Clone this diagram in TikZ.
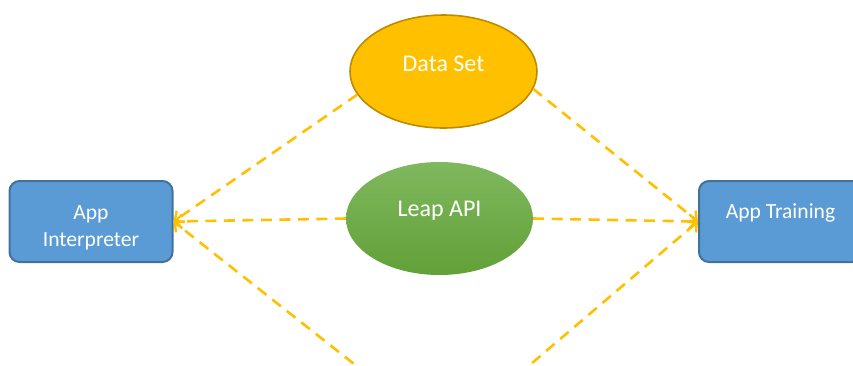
\documentclass[tikz,border=0pt]{standalone}
\usepackage{fontspec}
\setmainfont{Carlito}
\usepackage{tikz}
\usetikzlibrary{shapes.geometric,arrows.meta}
\definecolor{appfill}{HTML}{5B9BD5}
\definecolor{appedge}{HTML}{41719C}
\definecolor{datafill}{HTML}{FFC000}
\definecolor{dataedge}{HTML}{BC8C00}
\definecolor{leaptop}{HTML}{7FB85E}
\definecolor{leapbot}{HTML}{62A038}
\definecolor{linkgold}{HTML}{FFC000}

\begin{document}
\begin{tikzpicture}[
  x=1pt, y=-1pt,
  appbox/.style={draw=appedge, fill=appfill, line width=2pt, rounded corners=10pt,
    minimum width=163pt, minimum height=81pt, inner sep=0pt, text=white,
    align=center, font=\fontsize{21.6}{27.5}\selectfont},
  blob/.style={ellipse, minimum width=187pt, minimum height=113pt, inner sep=0pt,
    text=white, font=\fontsize{24}{28}\selectfont, text height=16pt},
  dataset/.style={blob, draw=dataedge, fill=datafill, line width=1.6pt, text depth=17pt},
  leapapi/.style={blob, top color=leaptop, bottom color=leapbot, draw=none, text depth=20pt},
  link/.style={draw=linkgold, line width=2.6pt, dash pattern=on 11pt off 7.5pt,
    -{Straight Barb[length=7pt,width=14pt,line width=2.4pt]}}
]
\clip (0,0) rectangle (853,365);

\node[appbox, text height=54pt] (interp) at (91,221.5) {App\\Interpreter};
\node[appbox, text height=14pt, text depth=19.6pt] (train) at (780.5,221.5) {App Training};
\node[dataset] (data) at (443.5,71.5) {Data Set};
\node[leapapi] (api) at (439.5,218.5) {Leap API};

\coordinate (lowL) at (368,375);
\coordinate (lowR) at (518,375);

% links to the apps
\foreach \from/\to in {data.195/interp.east, api.west/interp.east, lowL/interp.east,
  data.349/train.west, api.east/train.west, lowR/train.west}{
  \draw[link] (\from) -- (\to);
}
\end{tikzpicture}
\end{document}
